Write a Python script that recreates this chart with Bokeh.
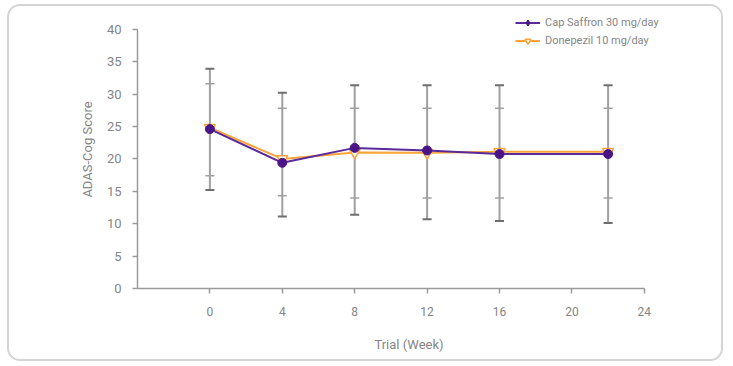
from bokeh.plotting import figure
from bokeh.models import (Whisker, TeeHead, ColumnDataSource, Legend, LegendItem,
                          FixedTicker, Range1d)
from bokeh.embed import file_html
from bokeh.resources import INLINE

# data
weeks = [0, 4, 8, 12, 16, 22]
saffron = [24.6, 19.4, 21.7, 21.3, 20.75, 20.75]
donepezil = [24.8, 20.0, 21.0, 20.95, 21.1, 21.1]
outer_hi = [33.9, 30.2, 31.35, 31.35, 31.35, 31.35]
outer_lo = [15.2, 11.1, 11.4, 10.7, 10.4, 10.1]
inner_hi = [31.6, 27.8, 27.8, 27.8, 27.8, 27.8]
inner_lo = [17.4, 14.3, 13.95, 13.95, 13.95, 13.95]
x_ticks = [0, 4, 8, 12, 16, 20, 24]
y_ticks = [0, 5, 10, 15, 20, 25, 30, 35, 40]
series_names = ["Cap Saffron 30 mg/day", "Donepezil 10 mg/day"]

FONT = "Roboto"
TXT = "#858585"
AX = "#9a9a9a"
PURPLE = "#5a2a9a"
PURPLE_DOT = "#4a1488"
ORANGE = "#f8a43a"

src = ColumnDataSource(dict(x=weeks, s=saffron, d=donepezil,
                            ohi=outer_hi, olo=outer_lo, ihi=inner_hi, ilo=inner_lo))

# frame is a little larger than the axes (axis bounds limit the drawn axes),
# so that the legend, which sits beyond the axes' corner, is not clipped
p = figure(width=716, height=357, output_backend="svg", toolbar_location=None,
           x_range=Range1d(-4, 26), y_range=Range1d(0, 42.9),
           min_border_left=128, min_border_right=45, min_border_top=4,
           min_border_bottom=75)
p.margin = (4, 0, 0, 7)
p.styles = {"border": "2px solid #d4d4d4", "border-radius": "13px", "overflow": "hidden"}
p.outline_line_color = None
p.xgrid.visible = False
p.ygrid.visible = False

for ax in (p.xaxis[0], p.yaxis[0]):
    ax.axis_line_color = AX
    ax.axis_line_width = 1.5
    ax.major_tick_line_color = AX
    ax.major_tick_line_width = 1.5
    ax.major_tick_out = 5
    ax.major_tick_in = 0
    ax.minor_tick_line_color = None
    ax.major_label_text_color = TXT
    ax.major_label_text_font = FONT
    ax.axis_label_text_color = TXT
    ax.axis_label_text_font = FONT
    ax.axis_label_text_font_style = "normal"
    ax.axis_label_text_font_size = "13px"

p.xaxis.bounds = (-4, 24)
p.yaxis.bounds = (0, 40)
p.xaxis.ticker = FixedTicker(ticks=x_ticks)
p.yaxis.ticker = FixedTicker(ticks=y_ticks)
p.xaxis.major_label_text_font_size = "12px"
p.yaxis.major_label_text_font_size = "13px"
p.xaxis.major_label_standoff = 13
p.yaxis.major_label_standoff = 11
p.xaxis.axis_label = "Trial (Week)"
p.yaxis.axis_label = "ADAS-Cog Score"
p.xaxis.axis_label_standoff = 18
p.yaxis.axis_label_standoff = 9

# error bars
outer = Whisker(base="x", upper="ohi", lower="olo", source=src,
                line_color="#a0a0a0", line_width=2,
                upper_head=TeeHead(size=9, line_color="#6e6e6e", line_width=2),
                lower_head=TeeHead(size=9, line_color="#6e6e6e", line_width=2))
inner = Whisker(base="x", upper="ihi", lower="ilo", source=src,
                line_alpha=0,
                upper_head=TeeHead(size=9, line_color="#a0a0a0", line_width=1.5),
                lower_head=TeeHead(size=9, line_color="#a0a0a0", line_width=1.5))
p.add_layout(outer)
p.add_layout(inner)

# series
d_line = p.line("x", "d", source=src, line_color=ORANGE, line_width=2)
d_pts = p.scatter("x", "d", source=src, marker="inverted_triangle", size=11,
                  line_color=ORANGE, line_width=1.5, fill_color="white")
s_line = p.line("x", "s", source=src, line_color=PURPLE, line_width=2)
# small diamonds under the round markers: they give the legend its diamond key
s_key = p.scatter("x", "s", source=src, marker="diamond", size=6,
                  line_color=PURPLE_DOT, fill_color=PURPLE_DOT)
s_pts = p.scatter("x", "s", source=src, marker="circle", size=9,
                  line_color=PURPLE_DOT, fill_color=PURPLE_DOT)

legend = Legend(items=[LegendItem(label=series_names[0], renderers=[s_line, s_key]),
                       LegendItem(label=series_names[1], renderers=[d_line, d_pts])],
                location=(378, 240), orientation="vertical",
                border_line_color=None, background_fill_alpha=0,
                padding=0, margin=0, spacing=3,
                glyph_width=25, glyph_height=15, label_height=15,
                label_standoff=5, label_text_font=FONT, label_text_font_size="11px",
                label_text_color=TXT)
p.add_layout(legend)

open("out.html", "w").write(file_html(p, INLINE))
